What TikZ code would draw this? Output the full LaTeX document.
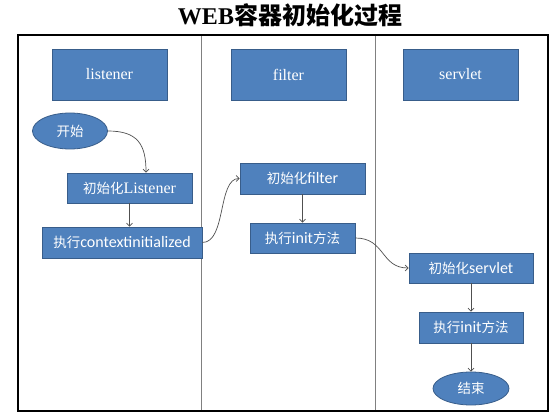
\documentclass[tikz,border=0pt]{standalone}
\usepackage{fontspec}
\setmainfont{Liberation Serif}
\newfontfamily\cjk{Noto Sans CJK SC}
\newfontfamily\cjkb{Noto Sans CJK SC Bold}
\newfontfamily\calfont{Carlito}
\usetikzlibrary{arrows.meta,shapes.geometric}
\definecolor{boxblue}{RGB}{79,129,189}
\definecolor{boxedge}{RGB}{56,93,138}
\definecolor{linegray}{RGB}{80,80,80}
\newcommand\zh[1]{{\fontsize{13.5}{15}\selectfont\cjk #1}}
\newcommand\la[1]{{\fontsize{16}{18}\selectfont\calfont #1}}
\newcommand\lr[1]{{\fontsize{16}{18}\selectfont\rmfamily #1}}
\tikzset{
  hdr/.style={rectangle, draw=boxedge, fill=boxblue, line width=0.8pt, text=white,
    minimum width=115pt, minimum height=51pt, inner sep=0pt, font=\fontsize{16}{18}\selectfont\rmfamily},
  box/.style={rectangle, draw=boxedge, fill=boxblue, line width=0.8pt, text=white,
    minimum height=30pt, inner sep=0pt},
  oval/.style={ellipse, draw=boxedge, fill=boxblue, line width=0.8pt, text=white, inner sep=0pt},
  arr/.style={draw=linegray, line width=0.7pt, -{Straight Barb[length=3pt,width=6pt]}},
}
\begin{document}
\begin{tikzpicture}[x=1pt,y=-1pt]
\useasboundingbox (0,0) rectangle (554,419);
\fill[white] (0,0) rectangle (554,419);
\node (title) at (290,15) {\fontsize{24}{26}\selectfont\bfseries WEB{\cjkb 容器初始化过程}};
\draw[gray, line width=0.9pt] (201,35) -- (201,411);
\draw[gray, line width=0.9pt] (375,35) -- (375,411);
\draw[line width=1.5pt] (18,35) rectangle (548,411);

\node[hdr] (h1) at (109.5,74.5) {listener};
\node[hdr] (h2) at (288.5,74.5) {filter};
\node[hdr] (h3) at (460.5,74.5) {servlet};

\node[oval, minimum width=75pt, minimum height=36pt] (start) at (70,131) {\zh{开始}};
\node[box, minimum width=125pt] (L) at (129.5,188) {\zh{初始化}\lr{Listener}};
\node[box, minimum width=160pt, minimum height=31pt] (C) at (122,242.5) {\zh{执行}\la{contextinitialized}};
\node[box, minimum width=125pt, minimum height=31pt] (F) at (302.5,178.5) {\zh{初始化}\la{filter}};
\node[box, minimum width=105pt] (I1) at (302.5,238) {\zh{执行}\la{init}\zh{方法}};
\node[box, minimum width=124pt] (S) at (471,268) {\zh{初始化}\la{servlet}};
\node[box, minimum width=104pt, minimum height=31pt] (I2) at (471,327.5) {\zh{执行}\la{init}\zh{方法}};
\node[oval, minimum width=76pt, minimum height=33pt] (E) at (471,388.5) {\zh{结束}};

\draw[arr] (start.east) .. controls +(30,0) and +(0,-28) .. ([xshift=16.5pt]L.north);
\draw[arr] (L.south) -- (L.south |- C.north);
\draw[arr] (C.east) .. controls +(24,0) and +(-22,0) .. (F.west);
\draw[arr] (F.south) -- (I1.north);
\draw[arr] (I1.east) .. controls +(30,0) and +(-28,0) .. (S.west);
\draw[arr] (S.south) -- (I2.north);
\draw[arr] (I2.south) -- (E.north);
\end{tikzpicture}
\end{document}
